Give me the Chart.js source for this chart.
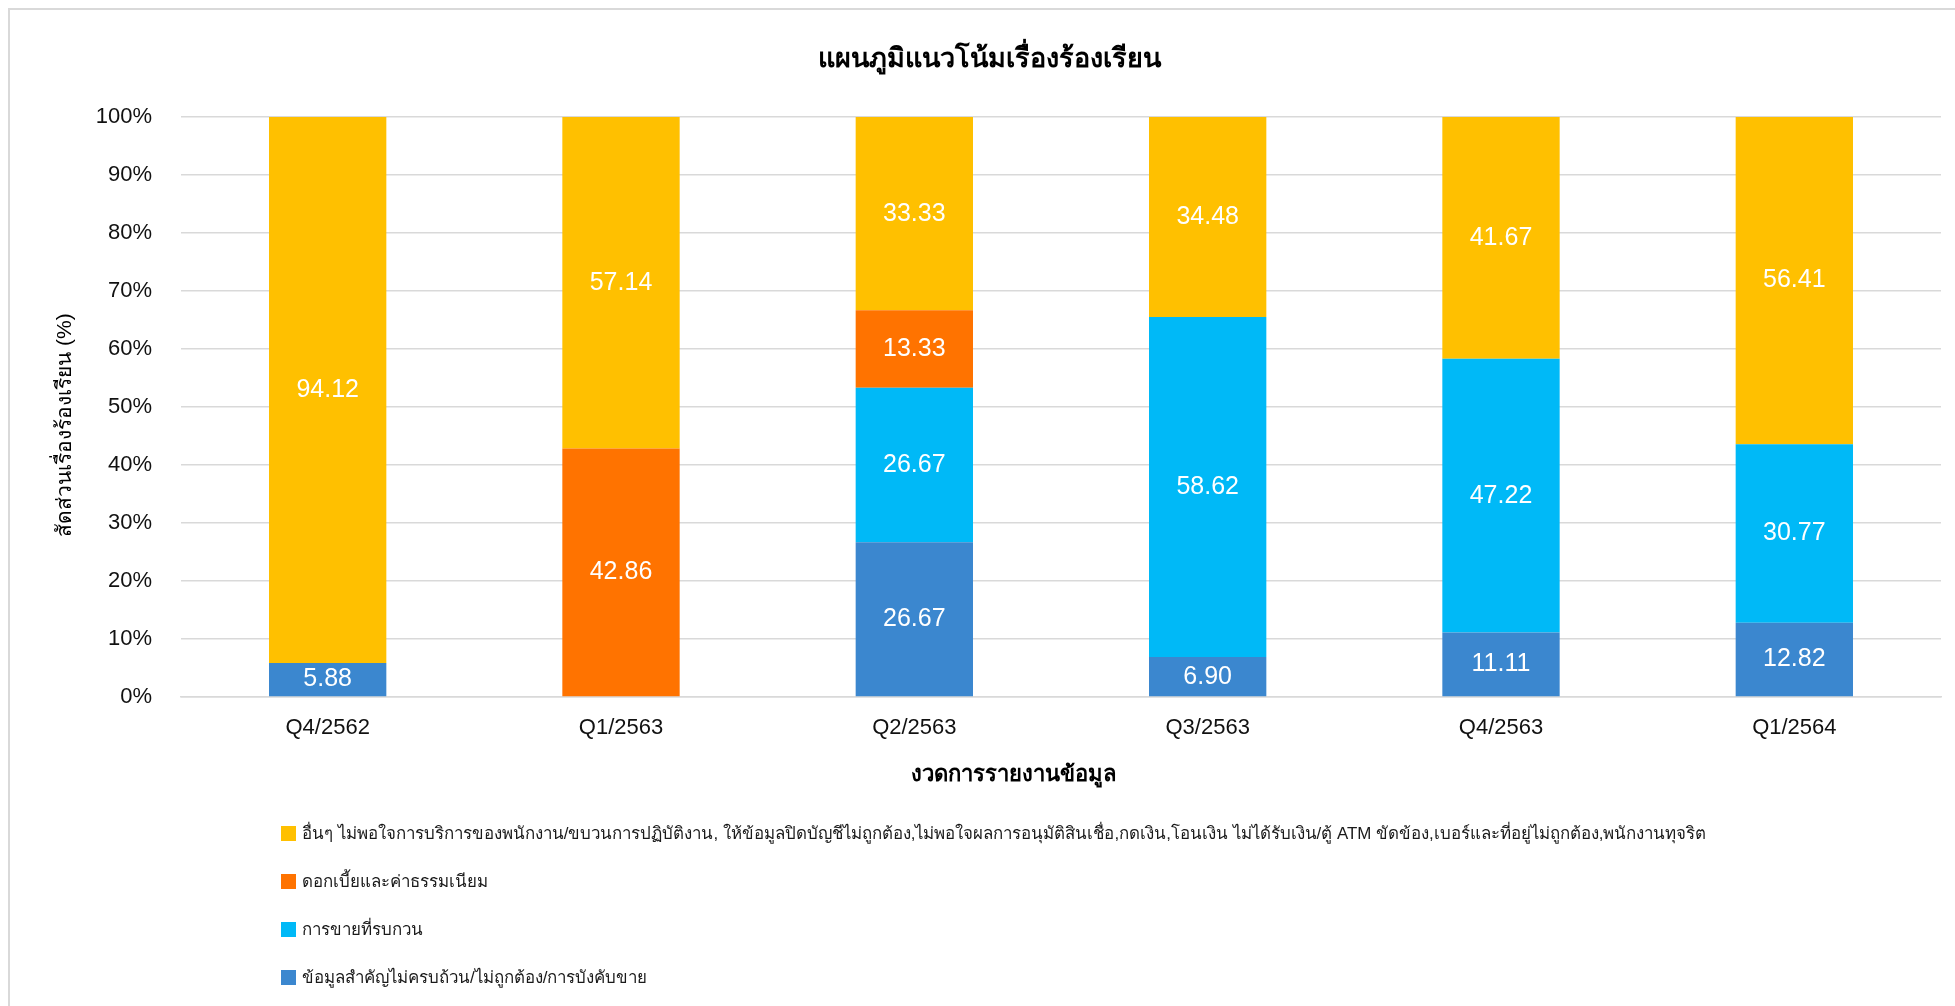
<!DOCTYPE html>
<html>
<head>
<meta charset="utf-8">
<script src="https://cdn.jsdelivr.net/npm/chart.js@4.4.1/dist/chart.umd.min.js"></script>
<style>
  html, body { margin: 0; padding: 0; background: #ffffff; }
  #wrap { width: 1955px; height: 1006px; position: relative; }
</style>
</head>
<body>
<div id="wrap"><canvas id="complaintChart" width="1955" height="1006"></canvas></div>
<script>
  const categories = ["Q4/2562", "Q1/2563", "Q2/2563", "Q3/2563", "Q4/2563", "Q1/2564"];

  // stacked bottom to top
  const infoMissing = [5.88, 0, 26.67, 6.90, 11.11, 12.82];
  const intrusiveSales = [0, 0, 26.67, 58.62, 47.22, 30.77];
  const feesInterest = [0, 42.86, 13.33, 0, 0, 0];
  const otherIssues = [94.12, 57.14, 33.33, 34.48, 41.67, 56.41];

  const yTicks = [0, 10, 20, 30, 40, 50, 60, 70, 80, 90, 100];

  const chartTitle = "แผนภูมิแนวโน้มเรื่องร้องเรียน";
  const xTitle = "งวดการรายงานข้อมูล";
  const yTitle = "สัดส่วนเรื่องร้องเรียน (%)";

  const legendNames = {
    other: "อื่นๆ ไม่พอใจการบริการของพนักงาน/ขบวนการปฏิบัติงาน, ให้ข้อมูลปิดบัญชีไม่ถูกต้อง,ไม่พอใจผลการอนุมัติสินเชื่อ,กดเงิน,โอนเงิน ไม่ได้รับเงิน/ตู้ ATM ขัดข้อง,เบอร์และที่อยู่ไม่ถูกต้อง,พนักงานทุจริต",
    fees: "ดอกเบี้ยและค่าธรรมเนียม",
    sales: "การขายที่รบกวน",
    info: "ข้อมูลสำคัญไม่ครบถ้วน/ไม่ถูกต้อง/การบังคับขาย"
  };

  const FONT = "'Liberation Sans', Arial, 'Noto Sans', sans-serif";

  // frame, titles and the legend list are drawn by hand
  const decorations = {
    id: "decorations",
    beforeDraw(chart) {
      const ctx = chart.ctx;
      ctx.save();
      ctx.fillStyle = "#d9d9d9";
      ctx.fillRect(8, 8, chart.width, 2);
      ctx.fillRect(8, 8, 2, chart.height);
      ctx.restore();
    },
    afterDraw(chart) {
      const ctx = chart.ctx;
      ctx.save();
      ctx.fillStyle = "#000000";
      ctx.textAlign = "center";
      ctx.textBaseline = "middle";

      ctx.font = "bold 27px " + FONT;
      ctx.fillText(chartTitle, 989, 60);

      ctx.font = "bold 22px " + FONT;
      ctx.fillText(xTitle, 1013, 775);

      ctx.save();
      ctx.translate(65, 425);
      ctx.rotate(-Math.PI / 2);
      ctx.font = "21px " + FONT;
      ctx.fillText(yTitle, 0, 0);
      ctx.restore();

      // legend, one entry per line, top dataset first
      const sets = chart.data.datasets.slice().reverse();
      ctx.font = "20px " + FONT;
      const longest = Math.max(...sets.map((ds) => ctx.measureText(ds.label).width));
      const size = Math.min(18, 20 * 1424 / longest);
      ctx.font = size.toFixed(1) + "px " + FONT;
      ctx.textAlign = "left";
      sets.forEach((ds, i) => {
        const cy = 833.5 + i * 48;
        ctx.fillStyle = ds.backgroundColor;
        ctx.fillRect(281, cy - 7.5, 15, 15);
        ctx.fillStyle = "#1a1a1a";
        ctx.fillText(ds.label, 302, cy + 1);
      });
      ctx.restore();
    }
  };

  const segmentLabels = {
    id: "segmentLabels",
    afterDatasetsDraw(chart) {
      const ctx = chart.ctx;
      ctx.save();
      ctx.font = "25px " + FONT;
      ctx.fillStyle = "#ffffff";
      ctx.textAlign = "center";
      ctx.textBaseline = "middle";
      chart.data.datasets.forEach((ds, di) => {
        const meta = chart.getDatasetMeta(di);
        meta.data.forEach((bar, idx) => {
          const v = ds.data[idx];
          if (!v) return;
          const p = bar.getCenterPoint();
          ctx.fillText(v.toFixed(2), p.x, p.y);
        });
      });
      ctx.restore();
    }
  };

  new Chart(document.getElementById("complaintChart"), {
    type: "bar",
    data: {
      labels: categories,
      datasets: [
        { label: legendNames.info, data: infoMissing, backgroundColor: "#3b87cf" },
        { label: legendNames.sales, data: intrusiveSales, backgroundColor: "#00b9f7" },
        { label: legendNames.fees, data: feesInterest, backgroundColor: "#ff7300" },
        { label: legendNames.other, data: otherIssues, backgroundColor: "#ffc000" }
      ]
    },
    options: {
      responsive: false,
      animation: false,
      layout: { padding: { left: 0, right: 14, top: 117, bottom: 209 } },
      datasets: { bar: { categoryPercentage: 1, barPercentage: 0.4 } },
      plugins: {
        legend: { display: false },
        tooltip: { enabled: false },
        title: { display: false }
      },
      scales: {
        x: {
          stacked: true,
          afterFit(scale) { scale.height = 100; },
          grid: { display: false, drawTicks: false },
          border: { display: true, color: "#d9d9d9", width: 1.5 },
          ticks: { color: "#111111", padding: 18, font: { family: FONT, size: 22 } }
        },
        y: {
          stacked: true,
          min: 0,
          max: 100,
          afterFit(scale) { scale.width = 181; },
          afterBuildTicks(scale) { scale.ticks = yTicks.map((v) => ({ value: v })); },
          grid: { color: "#d9d9d9", lineWidth: 1.5, drawTicks: false },
          border: { display: false },
          ticks: {
            color: "#111111",
            padding: 29,
            font: { family: FONT, size: 22 },
            callback(value) { return value + "%"; }
          }
        }
      }
    },
    plugins: [decorations, segmentLabels]
  });
</script>
</body>
</html>
